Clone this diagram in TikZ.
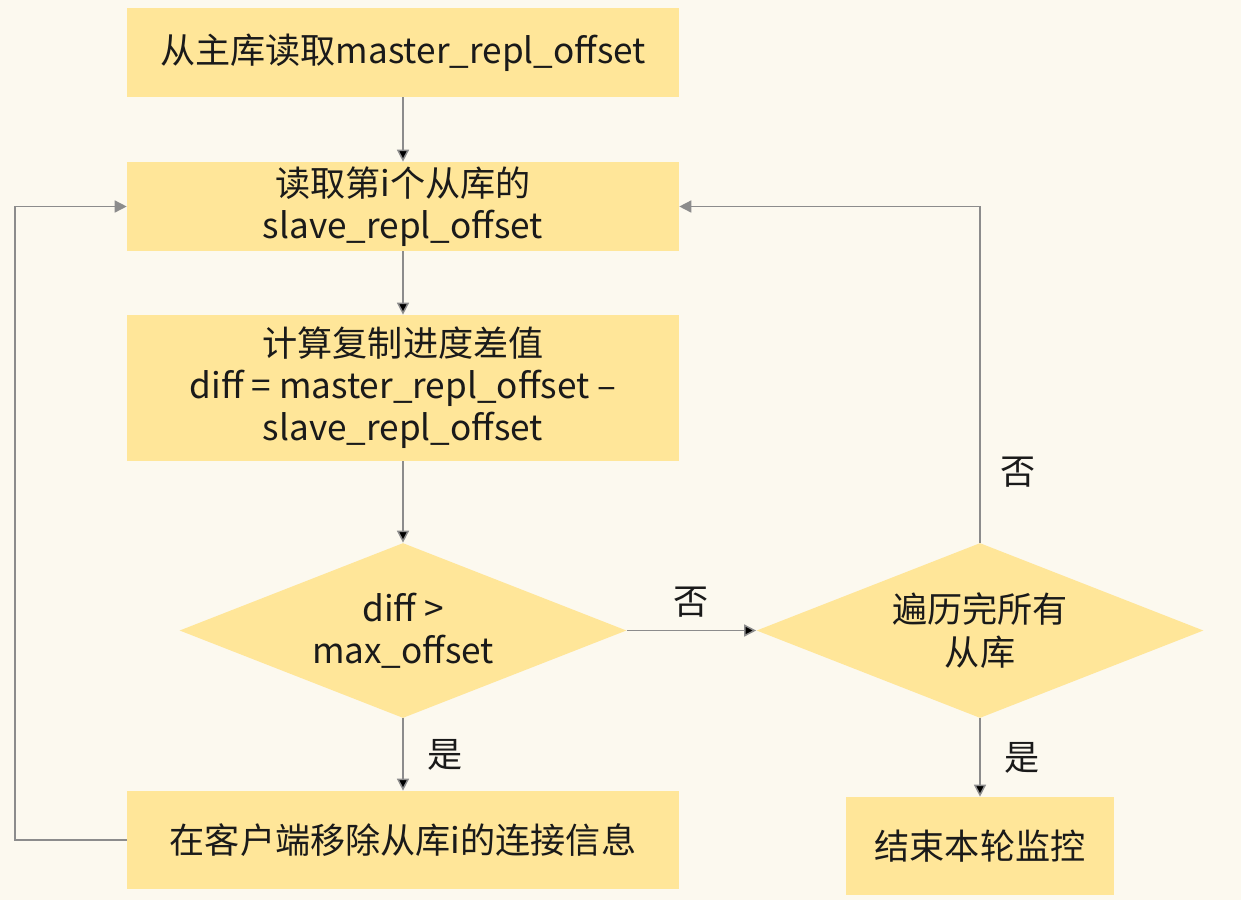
\documentclass[tikz,border=0pt]{standalone}
\usepackage{fontspec}
\setmainfont{Noto Sans CJK SC}
\usetikzlibrary{shapes.geometric,arrows.meta}
\definecolor{bgcol}{HTML}{FCF9EF}
\definecolor{boxcol}{HTML}{FFE699}
\definecolor{linecol}{HTML}{8C8C8C}
\definecolor{textcol}{HTML}{1A1A1A}

\begin{document}
\begin{tikzpicture}[x=0.02cm,y=-0.02cm,font=\fontsize{20}{24}\selectfont,text=textcol,
    stepbox/.style={fill=boxcol,align=center,inner sep=0pt,minimum width=11.04cm},
    decide/.style={shape=diamond,fill=boxcol,align=center,inner sep=0pt,aspect=2.55,
        minimum width=8.94cm,minimum height=3.5cm},
    flow/.style={-{Triangle[length=0.24cm,width=0.24cm]},draw=linecol,line width=0.85pt}]
        \fill[bgcol] (0,0) rectangle (1241,900);
        \node[stepbox,minimum height=1.78cm] (B1) at (403,52.5) {从主库读取master\_repl\_offset};
        \node[stepbox,minimum height=1.78cm] (B2) at (403,206.5) {读取第i个从库的\\slave\_repl\_offset};
        \node[stepbox,minimum height=2.92cm] (B3) at (403,388) {计算复制进度差值\\diff = master\_repl\_offset –\\slave\_repl\_offset};
        \node[decide] (D1) at (403,630.5) {diff >\\max\_offset};
        \node[decide] (D2) at (980,630.5) {遍历完所有\\从库};
        \node[stepbox,minimum height=1.96cm] (B4) at (403,840) {在客户端移除从库i的连接信息};
        \node[stepbox,minimum width=5.36cm,minimum height=1.96cm] (B5) at (980,846) {结束本轮监控};
        \coordinate (L) at (15,840);
        \path [flow] (B1) edge (B2);
        \path [flow] (B2) edge (B3);
        \path [flow] (B3) edge (D1);
        \path [flow] (D1) edge node[right=10pt]{是} (B4);
        \path [flow] (D1) edge node[above=4pt]{否} (D2);
        \path [flow] (D2) edge node[right=10pt]{是} (B5);
        \draw [flow] (D2.north) |- node[pos=0.105,right=8pt]{否} (B2.east);
        \draw [flow] (B4.west) -- (L) |- (B2.west);
    \end{tikzpicture}
\end{document}
